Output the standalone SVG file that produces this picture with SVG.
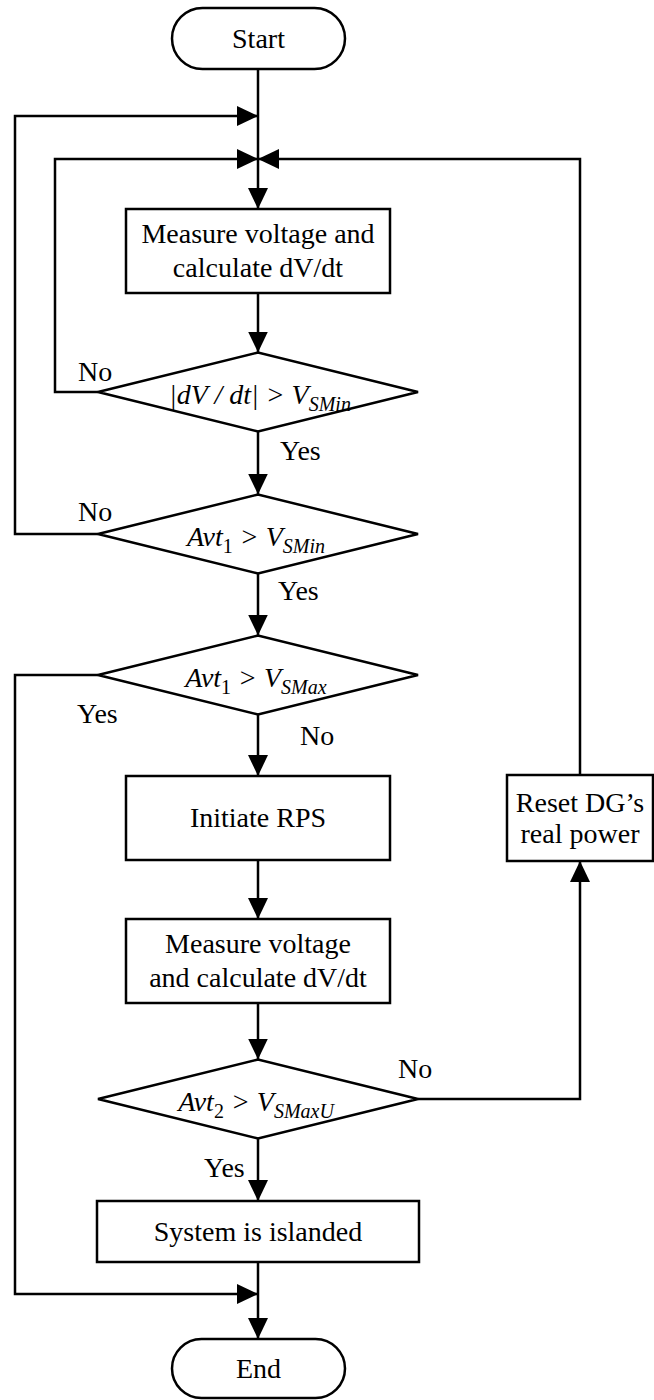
<svg xmlns="http://www.w3.org/2000/svg" width="654" height="1400" viewBox="0 0 654 1400">
<defs>
<marker id="ah" markerUnits="userSpaceOnUse" markerWidth="21" markerHeight="20" refX="21" refY="10" orient="auto">
<path d="M0,0 L21,10 L0,20 z" fill="#000"/>
</marker>
<style>
.s{fill:#fff;stroke:#000;stroke-width:2.5}
.c{fill:none;stroke:#000;stroke-width:2.5}
.t{font-family:"Liberation Serif","Times New Roman",serif;font-size:28px;fill:#000}
.m{font-family:"Liberation Serif","Times New Roman",serif;font-size:28px;font-style:italic;fill:#000}
.sub{font-size:20px}
.up{font-style:normal}
</style>
</defs>
<rect width="654" height="1400" fill="#fff"/>
<g id="connectors">
<path class="c" d="M258,69 V209" marker-end="url(#ah)"/>
<path class="c" d="M98,534 H15 V116 H258" marker-end="url(#ah)"/>
<path class="c" d="M98,392 H55 V159 H258" marker-end="url(#ah)"/>
<path class="c" d="M580,775 V159 H258" marker-end="url(#ah)"/>
<path class="c" d="M258,293 V352.5" marker-end="url(#ah)"/>
<path class="c" d="M258,431.5 V494.5" marker-end="url(#ah)"/>
<path class="c" d="M258,573.5 V635.5" marker-end="url(#ah)"/>
<path class="c" d="M258,714.5 V776" marker-end="url(#ah)"/>
<path class="c" d="M98,675 H15 V1294 H258" marker-end="url(#ah)"/>
<path class="c" d="M258,860 V919" marker-end="url(#ah)"/>
<path class="c" d="M258,1003 V1059.5" marker-end="url(#ah)"/>
<path class="c" d="M418,1099 H580 V861" marker-end="url(#ah)"/>
<path class="c" d="M258,1138.5 V1201" marker-end="url(#ah)"/>
<path class="c" d="M258,1262 V1339" marker-end="url(#ah)"/>
<text class="t" x="78" y="381">No</text>
<text class="t" x="280" y="460">Yes</text>
<text class="t" x="78" y="521">No</text>
<text class="t" x="278" y="600">Yes</text>
<text class="t" x="77" y="723">Yes</text>
<text class="t" x="300" y="745">No</text>
<text class="t" x="398" y="1078">No</text>
<text class="t" x="204" y="1177">Yes</text>
</g>
<g id="start">
<rect class="s" x="172" y="8" width="173" height="61" rx="30.5"/>
<text class="t" x="258.5" y="48" text-anchor="middle">Start</text>
</g>
<g id="measure1">
<rect class="s" x="126" y="209" width="264" height="84"/>
<text class="t" x="258" y="243" text-anchor="middle">Measure voltage and</text>
<text class="t" x="258" y="277" text-anchor="middle">calculate dV/dt</text>
</g>
<g id="decision1">
<polygon class="s" points="98,392 258,352.5 418,392 258,431.5"/>
<text class="m" x="260" y="404" text-anchor="middle">|dV / dt| &gt; V<tspan class="sub" dy="7">SMin</tspan></text>
</g>
<g id="decision2">
<polygon class="s" points="98,534 258,494.5 418,534 258,573.5"/>
<text class="m" x="256" y="546" text-anchor="middle">Avt<tspan class="sub up" dy="7">1</tspan><tspan dy="-7"> &gt; V</tspan><tspan class="sub" dy="7">SMin</tspan></text>
</g>
<g id="decision3">
<polygon class="s" points="98,675 258,635.5 418,675 258,714.5"/>
<text class="m" x="256" y="687" text-anchor="middle">Avt<tspan class="sub up" dy="7">1</tspan><tspan dy="-7"> &gt; V</tspan><tspan class="sub" dy="7">SMax</tspan></text>
</g>
<g id="initiate">
<rect class="s" x="126" y="776" width="264" height="84"/>
<text class="t" x="258" y="827" text-anchor="middle">Initiate RPS</text>
</g>
<g id="measure2">
<rect class="s" x="126" y="919" width="264" height="84"/>
<text class="t" x="258" y="953" text-anchor="middle">Measure voltage</text>
<text class="t" x="258" y="987" text-anchor="middle">and calculate dV/dt</text>
</g>
<g id="decision4">
<polygon class="s" points="98,1099 258,1059.5 418,1099 258,1138.5"/>
<text class="m" x="256" y="1111" text-anchor="middle">Avt<tspan class="sub up" dy="7">2</tspan><tspan dy="-7"> &gt; V</tspan><tspan class="sub" dy="7">SMaxU</tspan></text>
</g>
<g id="reset">
<rect class="s" x="507" y="775" width="146" height="86"/>
<text class="t" x="580" y="812" text-anchor="middle">Reset DG’s</text>
<text class="t" x="580" y="843" text-anchor="middle">real power</text>
</g>
<g id="islanded">
<rect class="s" x="97" y="1201" width="322" height="61"/>
<text class="t" x="258" y="1241" text-anchor="middle">System is islanded</text>
</g>
<g id="end">
<rect class="s" x="172" y="1339" width="173" height="59" rx="29.5"/>
<text class="t" x="258.5" y="1378" text-anchor="middle">End</text>
</g>
</svg>
